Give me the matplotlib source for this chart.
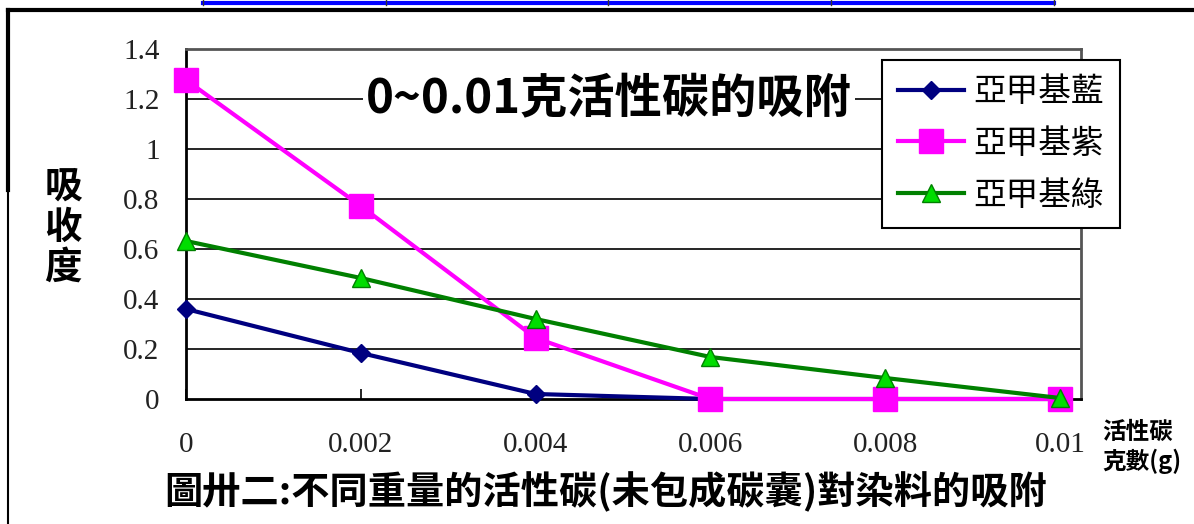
import matplotlib
matplotlib.use("Agg")
import matplotlib.pyplot as plt
from matplotlib.lines import Line2D

# Amount of activated carbon (g) and measured absorbance for each dye
carbon_g = [0.0, 0.002, 0.004, 0.006, 0.008, 0.010]
methylene_blue = [0.36, 0.184, 0.02, 0.0, 0.0, 0.0]
methyl_violet = [1.276, 0.772, 0.244, 0.0, 0.0, 0.0]
methyl_green = [0.632, 0.484, 0.32, 0.168, 0.084, 0.004]
series_names = ["亞甲基藍", "亞甲基紫", "亞甲基綠"]

x_ticks = [0.0, 0.002, 0.004, 0.006, 0.008, 0.010]
x_tick_labels = ["0", "0.002", "0.004", "0.006", "0.008", "0.01"]
y_ticks = [0.0, 0.2, 0.4, 0.6, 0.8, 1.0, 1.2, 1.4]
y_tick_labels = ["0", "0.2", "0.4", "0.6", "0.8", "1", "1.2", "1.4"]

chart_title = "0~0.01克活性碳的吸附"
y_title = "吸\n收\n度"
x_title = "活性碳\n克數(g)"
caption = "圖卅二:不同重量的活性碳(未包成碳囊)對染料的吸附"

CJK = ["Noto Sans CJK TC", "DejaVu Sans"]
SERIF = ["Liberation Serif", "DejaVu Serif"]

W, H = 1194, 524
fig = plt.figure(figsize=(W / 100, H / 100), dpi=100)
fig.patch.set_facecolor("white")

left, right, top, bottom = 186, 1081, 49, 399
ax = fig.add_axes([left / W, 1 - bottom / H, (right - left) / W, (bottom - top) / H])
ax.set_xlim(0, 0.01024)
ax.set_ylim(0, 1.4)

# horizontal gridlines
for yv in y_ticks[1:-1]:
    ax.axhline(yv, color="black", lw=1.2, zorder=1)

ax.plot(carbon_g, methylene_blue, color="#000080", lw=3, marker="D", ms=9,
        mfc="#000080", mec="#000080", zorder=3, label=series_names[0], clip_on=False)
ax.plot(carbon_g, methyl_violet, color="#FF00FF", lw=3, marker="s", ms=17,
        mfc="#FF00FF", mec="#FF00FF", zorder=4, label=series_names[1], clip_on=False)
ax.plot(carbon_g, methyl_green, color="#008000", lw=3, marker="^", ms=13,
        mfc="#00DD00", mec="#008000", mew=1, zorder=5, label=series_names[2], clip_on=False)

for side in ("left", "bottom"):
    ax.spines[side].set_color("black")
    ax.spines[side].set_linewidth(2)
for side in ("top", "right"):
    ax.spines[side].set_color("#555555")
    ax.spines[side].set_linewidth(2)

ax.set_xticks(x_ticks)
ax.set_xticklabels(x_tick_labels, family=SERIF, fontsize=21, color="#222222")
ax.set_yticks(y_ticks)
ax.set_yticklabels(y_tick_labels, family=SERIF, fontsize=21, color="#222222")
ax.tick_params(axis="x", direction="in", length=7, width=1.2, pad=24)
ax.tick_params(axis="y", length=0, pad=19)

ax.text(0.00484, 1.2, chart_title, family=CJK, fontsize=34, fontweight="bold",
        ha="center", va="center", zorder=6,
        bbox=dict(facecolor="white", edgecolor="none", pad=2))

leg = ax.legend(loc="upper left", bbox_to_anchor=(882 / W, 1 - 60 / H),
                bbox_transform=fig.transFigure, borderaxespad=0,
                prop={"family": CJK, "size": 23.5}, frameon=True, fancybox=False,
                edgecolor="black", framealpha=1, handlelength=2.0,
                labelspacing=0.6, borderpad=0.5, handletextpad=0.3)
leg.get_frame().set_linewidth(1.5)
leg.set_zorder(7)

fig.text(63 / W, 1 - 227 / H, y_title, family=CJK, fontsize=27, fontweight="bold",
         ha="center", va="center", linespacing=1.05)
fig.text(1102 / W, 1 - 447 / H, x_title, family=CJK, fontsize=17, fontweight="bold",
         ha="left", va="center", linespacing=1.25)
fig.text(606 / W, 1 - 492 / H, caption, family=CJK, fontsize=27.5, fontweight="bold",
         ha="center", va="center")

# page frame and the edge of the table above it
fig.add_artist(Line2D([8 / W, 1], [1 - 10 / H, 1 - 10 / H], color="black", lw=3,
                      transform=fig.transFigure))
fig.add_artist(Line2D([8 / W, 8 / W], [0, 1 - 10 / H], color="black", lw=1.5,
                      transform=fig.transFigure))
fig.add_artist(Line2D([8 / W, 8 / W], [1 - 190 / H, 1 - 10 / H], color="black", lw=3,
                      transform=fig.transFigure))
fig.add_artist(Line2D([203 / W, 1054 / W], [1 - 2.5 / H, 1 - 2.5 / H], color="#0000FF",
                      lw=3, transform=fig.transFigure))
for xd in (203, 386, 608, 831, 1054):
    fig.add_artist(Line2D([xd / W, xd / W], [1 - 5 / H, 1], color="#333333", lw=1,
                          transform=fig.transFigure))

fig.savefig("out.png", dpi=100)
